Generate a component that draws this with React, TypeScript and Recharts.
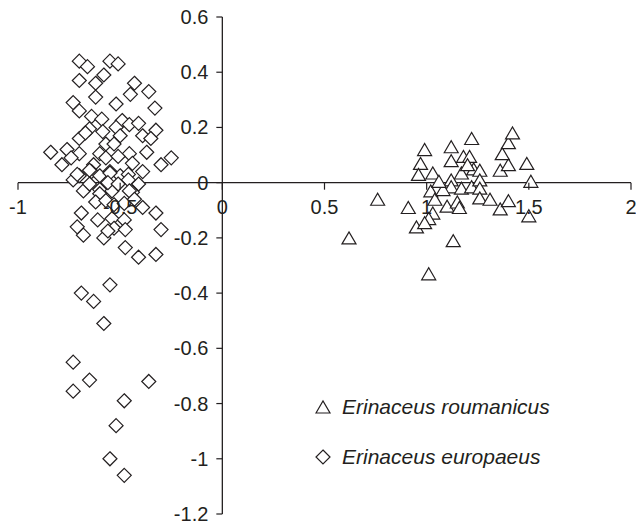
import {
  ScatterChart,
  Scatter,
  XAxis,
  YAxis,
  ReferenceLine,
  Legend,
} from 'recharts';

const X_TICKS = [-1, -0.5, 0, 0.5, 1, 1.5, 2];
const Y_TICKS = [0.6, 0.4, 0.2, 0, -0.2, -0.4, -0.6, -0.8, -1, -1.2];

const SERIES_NAMES = ['Erinaceus roumanicus', 'Erinaceus europaeus'];

// [x, y] pairs
const roumanicusPoints = [
  [0.76, -0.06], [0.62, -0.2], [0.91, -0.09], [0.99, 0.12], [0.97, 0.07],
  [0.96, 0.03], [1.03, 0.035], [1.02, -0.03], [1.04, -0.06], [1.03, -0.11],
  [1.01, -0.13], [0.95, -0.16], [1.01, -0.33], [1.13, -0.21], [1.12, 0.13],
  [1.22, 0.16], [1.12, 0.08], [1.18, 0.095], [1.21, 0.095], [1.23, 0.05],
  [1.17, 0.035], [1.26, 0.045], [1.12, 0.01], [1.12, -0.015], [1.17, -0.02],
  [1.22, -0.015], [1.26, 0.01], [1.26, -0.02], [1.08, -0.025], [1.1, -0.085],
  [1.15, -0.07], [1.16, -0.09], [1.26, -0.055], [1.31, -0.06], [1.36, -0.095],
  [1.4, -0.065], [1.36, 0.045], [1.4, 0.065], [1.37, 0.105], [1.4, 0.145],
  [1.42, 0.18], [1.49, 0.07], [1.51, 0.005], [1.5, -0.12], [1.2, 0.065],
  [1.06, 0.005], [0.99, -0.145],
];

const europaeusPoints = [
  [-0.7, 0.44], [-0.66, 0.42], [-0.55, 0.44], [-0.51, 0.43], [-0.7, 0.37],
  [-0.62, 0.36], [-0.58, 0.39], [-0.43, 0.36], [-0.36, 0.33], [-0.45, 0.32],
  [-0.62, 0.31], [-0.73, 0.29], [-0.52, 0.285], [-0.7, 0.26], [-0.33, 0.27],
  [-0.64, 0.24], [-0.59, 0.23], [-0.49, 0.225], [-0.455, 0.21], [-0.41, 0.215],
  [-0.325, 0.19], [-0.65, 0.195], [-0.585, 0.185], [-0.52, 0.2], [-0.39, 0.17],
  [-0.35, 0.16], [-0.7, 0.16], [-0.67, 0.18], [-0.5, 0.17], [-0.57, 0.14],
  [-0.53, 0.14], [-0.84, 0.11], [-0.76, 0.12], [-0.7, 0.105], [-0.6, 0.105],
  [-0.455, 0.105], [-0.37, 0.11], [-0.74, 0.09], [-0.57, 0.09], [-0.51, 0.095],
  [-0.25, 0.09], [-0.3, 0.065], [-0.785, 0.065], [-0.63, 0.065], [-0.44, 0.07],
  [-0.64, 0.04], [-0.55, 0.04], [-0.39, 0.04], [-0.73, 0.01], [-0.7, 0.025],
  [-0.6, 0.025], [-0.5, 0.025], [-0.46, 0.03], [-0.41, -0.005], [-0.68, -0.03],
  [-0.6, -0.025], [-0.54, -0.03], [-0.44, -0.035], [-0.71, 0.03], [-0.65, 0.045],
  [-0.55, 0.035], [-0.46, 0.01], [-0.65, -0.005], [-0.56, 0], [-0.51, -0.005],
  [-0.455, -0.03], [-0.6, -0.04], [-0.62, -0.07], [-0.57, -0.065], [-0.53, -0.08],
  [-0.48, -0.075], [-0.43, -0.06], [-0.39, -0.09], [-0.325, -0.11], [-0.69, -0.11],
  [-0.71, -0.16], [-0.68, -0.19], [-0.61, -0.135], [-0.58, -0.2], [-0.54, -0.13],
  [-0.53, -0.165], [-0.48, -0.135], [-0.475, -0.17], [-0.3, -0.17], [-0.56, -0.175],
  [-0.475, -0.235], [-0.41, -0.27], [-0.325, -0.26], [-0.55, -0.37], [-0.69, -0.4],
  [-0.63, -0.43], [-0.58, -0.51], [-0.73, -0.65], [-0.65, -0.715], [-0.73, -0.755],
  [-0.36, -0.72], [-0.48, -0.79], [-0.52, -0.88], [-0.55, -1.0], [-0.48, -1.06],
];

const toData = (pts: number[][]) => pts.map(([x, y]) => ({ x, y }));

const INK = '#231f20';
const FONT = '"Liberation Sans", Arial, Helvetica, sans-serif';

const CHART_W = 636;
const CHART_H = 524;
const AXIS_SIZE = 1;
const MARGIN = { top: 17, right: 5, bottom: 10 - AXIS_SIZE, left: 18 - AXIS_SIZE };
const X_DOMAIN = [-1, 2];
const Y_DOMAIN = [-1.2, 0.6];

const PLOT_W = CHART_W - MARGIN.left - MARGIN.right - AXIS_SIZE;
const PLOT_H = CHART_H - MARGIN.top - MARGIN.bottom - AXIS_SIZE;
// where the zero lines sit inside the plot area
const ZERO_FROM_LEFT = (PLOT_W * (0 - X_DOMAIN[0])) / (X_DOMAIN[1] - X_DOMAIN[0]);
const ZERO_FROM_BOTTOM = (PLOT_H * (0 - Y_DOMAIN[0])) / (Y_DOMAIN[1] - Y_DOMAIN[0]);

const Triangle = ({ cx, cy }: any) => (
  <path
    d={`M${cx - 7},${cy + 6}L${cx},${cy - 6}L${cx + 7},${cy + 6}Z`}
    fill="#fff"
    stroke={INK}
    strokeWidth={1.2}
  />
);

const Diamond = ({ cx, cy }: any) => (
  <path
    d={`M${cx},${cy - 7}L${cx + 7},${cy}L${cx},${cy + 7}L${cx - 7},${cy}Z`}
    fill="#fff"
    stroke={INK}
    strokeWidth={1.2}
  />
);

const XTick = (props: any) => {
  const { x, y, payload } = props;
  const ay = y - ZERO_FROM_BOTTOM;
  return (
    <g>
      <line x1={x} x2={x} y1={ay} y2={ay + 7} stroke={INK} strokeWidth={1.2} />
      <text x={x} y={ay + 31} textAnchor="middle" fill={INK} fontSize={20} fontFamily={FONT}>
        {String(payload.value)}
      </text>
    </g>
  );
};

const YTick = (props: any) => {
  const { x, y, payload } = props;
  const ax = x + ZERO_FROM_LEFT;
  return (
    <g>
      <line x1={ax - 6} x2={ax} y1={y} y2={y} stroke={INK} strokeWidth={1.2} />
      <text x={ax - 14} y={y + 7} textAnchor="end" fill={INK} fontSize={20} fontFamily={FONT}>
        {String(payload.value)}
      </text>
    </g>
  );
};

const renderLegend = () => (
  <div style={{ fontFamily: FONT, fontStyle: 'italic', fontSize: 21, color: INK }}>
    {SERIES_NAMES.map((name, i) => (
      <div key={name} style={{ display: 'flex', alignItems: 'center', height: 50 }}>
        <svg width={20} height={20}>
          {i === 0 ? <Triangle cx={10} cy={10} /> : <Diamond cx={10} cy={10} />}
        </svg>
        <span style={{ marginLeft: 9 }}>{name}</span>
      </div>
    ))}
  </div>
);

export default function App() {
  return (
    <div style={{ width: CHART_W, height: CHART_H, background: '#fff' }}>
      <style>{'body{margin:0;background:#fff}'}</style>
      <ScatterChart width={CHART_W} height={CHART_H} margin={MARGIN}>
        <XAxis
          type="number"
          dataKey="x"
          domain={X_DOMAIN}
          ticks={X_TICKS}
          height={AXIS_SIZE}
          tickSize={0}
          tickMargin={0}
          axisLine={false}
          tickLine={false}
          tick={XTick}
          interval={0}
          allowDataOverflow
        />
        <YAxis
          type="number"
          dataKey="y"
          domain={Y_DOMAIN}
          ticks={Y_TICKS}
          width={AXIS_SIZE}
          tickSize={0}
          tickMargin={0}
          axisLine={false}
          tickLine={false}
          tick={YTick}
          interval={0}
          allowDataOverflow
        />
        <ReferenceLine y={0} stroke={INK} strokeWidth={1.3} />
        <ReferenceLine x={0} stroke={INK} strokeWidth={1.3} />
        <Scatter
          name={SERIES_NAMES[0]}
          data={toData(roumanicusPoints)}
          shape={<Triangle />}
          isAnimationActive={false}
        />
        <Scatter
          name={SERIES_NAMES[1]}
          data={toData(europaeusPoints)}
          shape={<Diamond />}
          isAnimationActive={false}
        />
        <Legend
          layout="vertical"
          align="center"
          verticalAlign="middle"
          content={renderLegend}
          wrapperStyle={{ left: 313, top: 382, width: 280 }}
        />
      </ScatterChart>
    </div>
  );
}
